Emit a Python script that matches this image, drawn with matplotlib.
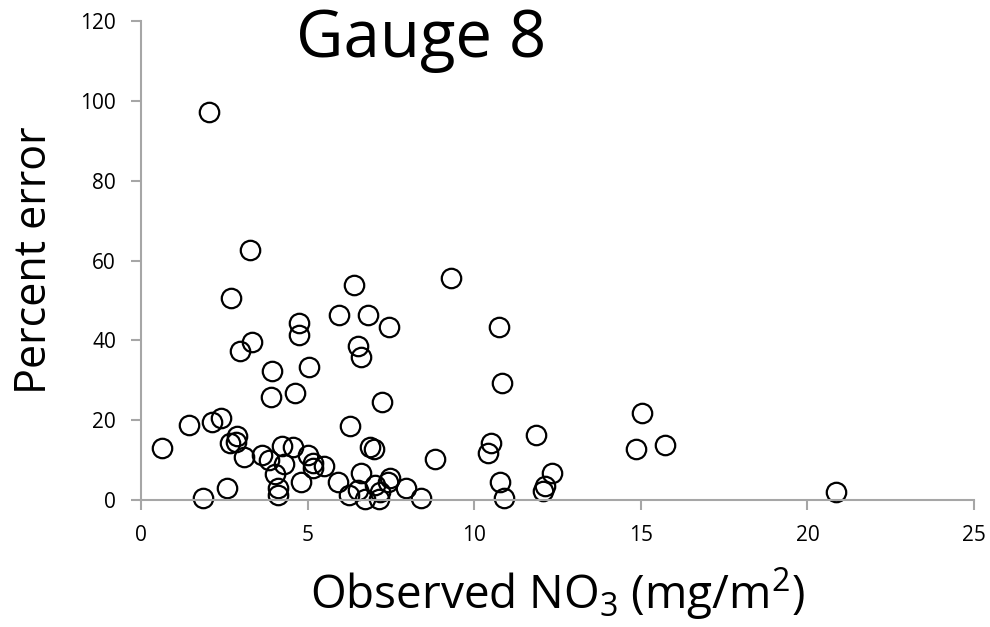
import matplotlib
matplotlib.use('Agg')
import matplotlib.pyplot as plt

plt.rcParams['font.family'] = ['Open Sans', 'DejaVu Sans']
plt.rcParams['mathtext.fontset'] = 'custom'
plt.rcParams['mathtext.rm'] = 'Open Sans'
plt.rcParams['mathtext.it'] = 'Open Sans'

# observed NO3 (mg/m2) and percent error
observed = [2.05, 3.27, 2.69, 6.38, 5.95, 6.82, 7.44, 4.74, 4.74, 3.32,
            2.97, 6.51, 6.60, 5.05, 3.93, 3.89, 4.61, 7.23, 1.45, 2.12,
            2.40, 6.26, 0.64, 2.89, 2.67, 2.85, 3.09, 3.62, 3.85, 4.01,
            4.22, 4.57, 4.30, 5.00, 5.15, 5.15, 5.48, 4.10, 4.10, 4.80,
            2.57, 1.87, 5.90, 6.23, 6.51, 6.60, 6.71, 6.88, 6.98, 7.03,
            7.16, 7.13, 7.41, 7.48, 7.96, 8.41, 8.83, 9.30, 10.74, 10.83,
            10.50, 10.40, 11.84, 10.78, 10.88, 12.33, 12.13, 12.06, 15.03, 14.86,
            15.72, 20.87]
pct_error = [97.3, 62.7, 50.7, 53.9, 46.5, 46.4, 43.4, 44.3, 41.3, 39.5,
             37.3, 38.6, 35.8, 33.3, 32.3, 25.8, 26.7, 24.6, 18.8, 19.5,
             20.6, 18.6, 13.0, 16.1, 14.2, 14.6, 10.7, 11.4, 10.0, 6.5,
             13.5, 13.4, 9.0, 11.4, 9.4, 7.9, 8.5, 2.9, 1.3, 4.6,
             3.1, 0.5, 4.6, 1.3, 2.5, 6.7, 0.3, 13.4, 12.8, 3.8,
             2.1, 0.3, 4.6, 5.4, 3.1, 0.4, 10.4, 55.7, 43.3, 29.4,
             14.4, 11.7, 16.2, 4.6, 0.6, 6.8, 3.5, 2.3, 21.7, 12.7,
             13.7, 2.1]

x_ticks = [0, 5, 10, 15, 20, 25]
y_ticks = [0, 20, 40, 60, 80, 100, 120]

fig = plt.figure(figsize=(9.9, 6.27), dpi=100)
ax = fig.add_axes([141 / 990, 127 / 627, 833 / 990, 478.7 / 627])

ax.plot(observed, pct_error, 'o', markersize=14, markerfacecolor='none',
        markeredgecolor='black', markeredgewidth=1.6, clip_on=False)

ax.set_xlim(0, 25)
ax.set_ylim(0, 120)
ax.set_xticks(x_ticks)
ax.set_yticks(y_ticks)

for side in ['top', 'right']:
    ax.spines[side].set_visible(False)
for side in ['left', 'bottom']:
    ax.spines[side].set_color('#a6a6a6')
    ax.spines[side].set_linewidth(1.5)
ax.tick_params(direction='out', length=7, width=1.5, color='#a6a6a6',
               labelsize=15, pad=11)

ax.set_ylabel('Percent error', fontsize=31, va='center')
ax.yaxis.set_label_coords(-0.128, 0.5)
ax.set_xlabel('Observed NO$_3$ (mg/m$^2$)', fontsize=33, va='center')
ax.xaxis.set_label_coords(0.5, -0.195)

fig.text(421 / 990, 1 - 40 / 627, 'Gauge 8', fontsize=47, ha='center', va='center')

fig.savefig('out.png', dpi=100)
